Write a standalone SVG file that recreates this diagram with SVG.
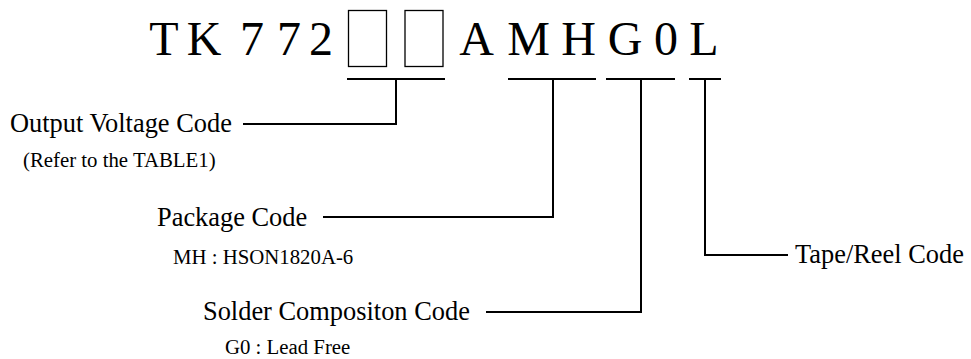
<svg xmlns="http://www.w3.org/2000/svg" width="971" height="359" viewBox="0 0 971 359">
<style>
text{font-family:"Liberation Serif","Times New Roman",serif;fill:#000}
.big{font-size:48px;text-anchor:middle}
.lbl{font-size:26.4px}
.sub{font-size:20.8px}
.ln{stroke:#000;stroke-width:2;fill:none}
.box{stroke:#000;stroke-width:1.3;fill:none}
</style>
<rect width="971" height="359" fill="#fff"/>
<g id="part-number">
<text class="big" x="164" y="55">T</text>
<text class="big" x="204" y="55">K</text>
<text class="big" x="252" y="55">7</text>
<text class="big" x="289" y="55">7</text>
<text class="big" x="321" y="55">2</text>
<rect class="box" x="348.5" y="10.5" width="38" height="56"/>
<rect class="box" x="405" y="10.5" width="38" height="56"/>
<text class="big" x="476.5" y="55">A</text>
<text class="big" x="528.5" y="55">M</text>
<text class="big" x="578.5" y="55">H</text>
<text class="big" x="625" y="55">G</text>
<text class="big" x="666" y="55">0</text>
<text class="big" x="704" y="55">L</text>
</g>
<g id="connectors">
<path class="ln" d="M347 79H445M396 79V124H243"/>
<path class="ln" d="M508 79H596M553 79V217H323"/>
<path class="ln" d="M606 79H675M641 79V312H486"/>
<path class="ln" d="M689 79H721M705 79V255H788"/>
</g>
<g id="output-voltage">
<text class="lbl" x="10" y="132">Output Voltage Code</text>
<text class="sub" x="23" y="167">(Refer to the TABLE1)</text>
</g>
<g id="package">
<text class="lbl" x="157" y="226">Package Code</text>
<text class="sub" x="173" y="264">MH : HSON1820A-6</text>
</g>
<g id="solder">
<text class="lbl" x="203" y="320">Solder Compositon Code</text>
<text class="sub" x="225" y="354">G0 : Lead Free</text>
</g>
<g id="tape-reel">
<text class="lbl" x="795" y="263">Tape/Reel Code</text>
</g>
</svg>
